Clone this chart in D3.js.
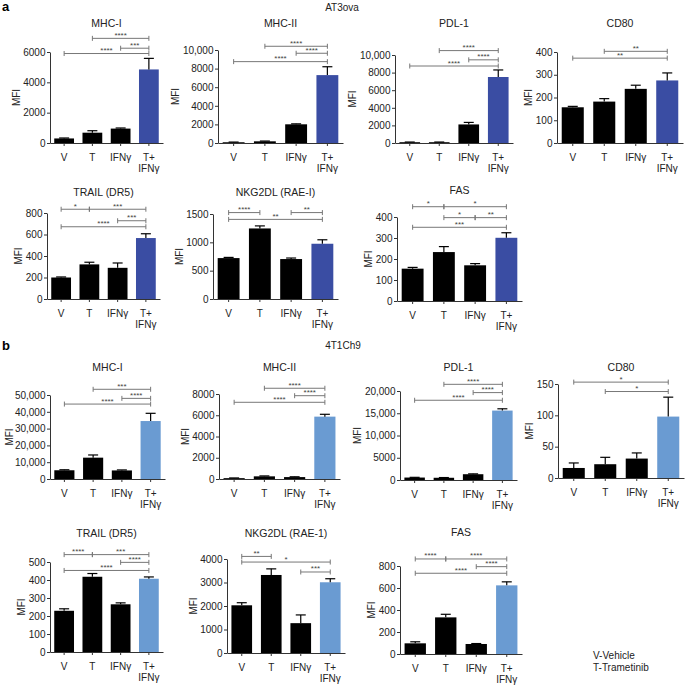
<!DOCTYPE html>
<html>
<head>
<meta charset="utf-8">
<script src="https://cdnjs.cloudflare.com/ajax/libs/d3/7.8.5/d3.min.js"></script>
<style>
  body { margin: 0; background: #fff; }
  svg text { font-family: "Liberation Sans", Arial, sans-serif; }
</style>
</head>
<body>
<div id="chart"></div>
<script>
var groups = ["V", "T", "IFNγ", "T+IFNγ"];

// panel a - AT3ova
var titlesA = ["MHC-I", "MHC-II", "PDL-1", "CD80", "TRAIL (DR5)", "NKG2DL (RAE-I)", "FAS"];
var meansA = [
  [300, 680, 950, 4850],
  [80, 180, 2010, 7300],
  [90, 90, 2110, 7500],
  [157, 182, 238, 275],
  [200, 322, 290, 567],
  [722, 1245, 705, 975],
  [154, 233, 170, 301]
];
var errsA = [
  [30, 130, 40, 730],
  [20, 30, 50, 900],
  [20, 20, 230, 800],
  [4, 13, 16, 33],
  [5, 20, 45, 40],
  [12, 45, 18, 70],
  [6, 26, 8, 24]
];
var ticksA = [
  [0, 2000, 4000, 6000],
  [0, 2000, 4000, 6000, 8000, 10000],
  [0, 2000, 4000, 6000, 8000, 10000],
  [0, 100, 200, 300, 400],
  [0, 200, 400, 600, 800],
  [0, 500, 1000, 1500],
  [0, 100, 200, 300, 400]
];
// [from, to, stars, level]
var bracketsA = [
  [[1, 3, "****", 6900], [2, 3, "***", 6250], [0, 3, "****", 5900]],
  [[1, 3, "****", 10400], [2, 3, "****", 9650], [0, 3, "****", 8750]],
  [[1, 3, "****", 10500], [2, 3, "****", 9450], [0, 3, "****", 8750]],
  [[1, 3, "**", 403], [0, 3, "**", 373]],
  [[0, 1, "*", 835], [1, 3, "***", 835], [2, 3, "***", 728], [0, 3, "****", 672]],
  [[0, 1, "****", 1525], [2, 3, "**", 1525], [0, 3, "**", 1405]],
  [[0, 1, "*", 449], [1, 3, "*", 449], [1, 2, "*", 397], [2, 3, "**", 397], [0, 3, "***", 351]]
];

// panel b - 4T1Ch9
var titlesB = ["MHC-I", "MHC-II", "PDL-1", "CD80", "TRAIL (DR5)", "NKG2DL (RAE-1)", "FAS"];
var meansB = [
  [5200, 12700, 5100, 34500],
  [80, 250, 180, 5870],
  [550, 500, 1300, 15600],
  [16, 22, 31, 98],
  [229, 418, 265, 407],
  [2030, 3320, 1270, 3010],
  [97, 333, 91, 624]
];
var errsB = [
  [300, 1600, 300, 4600],
  [20, 40, 30, 220],
  [50, 50, 80, 400],
  [8, 11, 9, 31],
  [11, 18, 8, 10],
  [110, 260, 350, 150],
  [14, 28, 4, 32]
];
var ticksB = [
  [0, 10000, 20000, 30000, 40000, 50000],
  [0, 2000, 4000, 6000, 8000],
  [0, 5000, 10000, 15000, 20000],
  [0, 50, 100, 150],
  [0, 100, 200, 300, 400, 500],
  [0, 1000, 2000, 3000, 4000],
  [0, 200, 400, 600, 800]
];
var bracketsB = [
  [[1, 3, "***", 53400], [2, 3, "****", 48000], [0, 3, "****", 44600]],
  [[1, 3, "****", 8540], [2, 3, "****", 7840], [0, 3, "****", 7220]],
  [[1, 3, "****", 21500], [2, 3, "****", 19640], [0, 3, "****", 17920]],
  [[0, 3, "*", 153], [1, 3, "*", 138]],
  [[0, 1, "****", 541], [1, 3, "***", 541], [2, 3, "****", 498], [0, 3, "****", 453]],
  [[0, 1, "**", 4110], [0, 3, "*", 3870], [2, 3, "***", 3447]],
  [[0, 1, "****", 864], [1, 3, "****", 864], [2, 3, "****", 794], [0, 3, "****", 734]]
];

// plot boxes: x axis left, x axis right, top tick y, baseline y, title y
var layoutA = [
  [50, 163, 52, 143, 27],
  [218, 343, 50, 143, 27],
  [395, 513, 55, 143, 27],
  [557, 683, 52, 143, 27],
  [47, 160, 213, 299, 196],
  [213, 338, 214, 299, 196],
  [397, 522, 217, 301, 194]
];
var layoutB = [
  [50, 165, 395, 479, 371],
  [219, 340, 394, 479, 371],
  [400, 517, 391, 480, 371],
  [558, 684, 384, 478, 371],
  [50, 163, 562, 652, 537],
  [227, 345, 559, 653, 537],
  [400, 522, 566, 654, 536]
];

var svg = d3.select("#chart").append("svg")
    .attr("width", 685)
    .attr("height", 685);

function fmtTick(d) {
  return d >= 10000 ? d3.format(",")(d) : String(d);
}

function drawChart(title, means, errs, ticks, brackets, box, accent) {
  var x = d3.scaleBand().domain(groups).range([box[0], box[1]])
      .paddingInner(0.3).paddingOuter(0.15);
  var y = d3.scaleLinear().domain([0, ticks[ticks.length - 1]]).range([box[3], box[2]]);
  var g = svg.append("g");
  var cx = function(i) { return x(groups[i]) + x.bandwidth() / 2; };

  // bars
  g.selectAll("rect.bar").data(means).enter().append("rect")
      .attr("class", "bar")
      .attr("x", function(d, i) { return x(groups[i]); })
      .attr("y", function(d) { return y(d); })
      .attr("width", x.bandwidth())
      .attr("height", function(d) { return y(0) - y(d); })
      .attr("fill", function(d, i) { return i == 3 ? accent : "#000"; });

  // error bars, upper only
  for (var i = 0; i < means.length; i++) {
    var top = y(means[i] + errs[i]);
    g.append("line")
        .attr("x1", cx(i)).attr("x2", cx(i))
        .attr("y1", y(means[i])).attr("y2", top)
        .attr("stroke", "#000").attr("stroke-width", 1.2);
    g.append("line")
        .attr("x1", cx(i) - 5).attr("x2", cx(i) + 5)
        .attr("y1", top).attr("y2", top)
        .attr("stroke", "#000").attr("stroke-width", 1.2);
  }

  // y axis
  var ya = g.append("g")
      .attr("transform", "translate(" + box[0] + ",0)")
      .call(d3.axisLeft(y).tickValues(ticks).tickSize(3).tickSizeOuter(0).tickPadding(1.5).tickFormat(fmtTick));
  ya.attr("font-family", null).attr("font-size", null);
  ya.selectAll("text").style("font-size", "10px").attr("fill", "#222");
  ya.selectAll("line, path").attr("stroke", "#333");

  // x axis
  var xa = g.append("g")
      .attr("transform", "translate(0," + box[3] + ")")
      .call(d3.axisBottom(x).tickSize(3).tickSizeOuter(0).tickFormat(""));
  xa.selectAll("line, path").attr("stroke", "#333");

  groups.forEach(function(name, i) {
    var t = g.append("text")
        .attr("x", cx(i))
        .attr("y", box[3] + 18)
        .attr("text-anchor", "middle")
        .style("font-size", "10px")
        .attr("fill", "#222");
    if (name == "T+IFNγ") {
      t.append("tspan").attr("x", cx(i)).text("T+");
      t.append("tspan").attr("x", cx(i)).attr("dy", 11).text("IFNγ");
    } else {
      t.text(name);
    }
  });

  // MFI label, left of the widest tick label
  var maxW = d3.max(ya.selectAll("text").nodes(), function(n) { return n.getComputedTextLength(); });
  var mfiX = Math.max(box[0] - 4.5 - maxW - 7, 9);
  g.append("text")
      .attr("transform", "translate(" + mfiX + "," + ((box[2] + box[3]) / 2) + ") rotate(-90)")
      .attr("text-anchor", "middle")
      .attr("dy", "0.35em")
      .style("font-size", "10px")
      .attr("fill", "#222")
      .text("MFI");

  // title
  g.append("text")
      .attr("x", (box[0] + box[1]) / 2)
      .attr("y", box[4])
      .attr("text-anchor", "middle")
      .style("font-size", "10.5px")
      .attr("fill", "#222")
      .text(title);

  // significance brackets
  brackets.forEach(function(b) {
    var x1 = cx(b[0]), x2 = cx(b[1]), yy = y(b[3]);
    g.append("line").attr("x1", x1).attr("x2", x2).attr("y1", yy).attr("y2", yy)
        .attr("stroke", "#777").attr("stroke-width", 1);
    [x1, x2].forEach(function(xx) {
      g.append("line").attr("x1", xx).attr("x2", xx).attr("y1", yy - 2.5).attr("y2", yy + 2.5)
          .attr("stroke", "#777").attr("stroke-width", 1);
    });
    g.append("text")
        .attr("x", (x1 + x2) / 2)
        .attr("y", yy - 0.5)
        .attr("text-anchor", "middle")
        .style("font-size", "8px")
        .attr("fill", "#444")
        .text(b[2]);
  });
}

for (var k = 0; k < titlesA.length; k++) {
  drawChart(titlesA[k], meansA[k], errsA[k], ticksA[k], bracketsA[k], layoutA[k], "#3a4da3");
}
for (var k = 0; k < titlesB.length; k++) {
  drawChart(titlesB[k], meansB[k], errsB[k], ticksB[k], bracketsB[k], layoutB[k], "#6a9bd2");
}

// panel letters and cell line names
svg.append("text").attr("x", 2).attr("y", 11).style("font-size", "13px").style("font-weight", "bold").text("a");
svg.append("text").attr("x", 342).attr("y", 11).attr("text-anchor", "middle").style("font-size", "10px").attr("fill", "#222").text("AT3ova");
svg.append("text").attr("x", 2).attr("y", 350).style("font-size", "13px").style("font-weight", "bold").text("b");
svg.append("text").attr("x", 343).attr("y", 349).attr("text-anchor", "middle").style("font-size", "10px").attr("fill", "#222").text("4T1Ch9");

// legend
svg.append("text").attr("x", 593).attr("y", 659).style("font-size", "10px").attr("fill", "#222").text("V-Vehicle");
svg.append("text").attr("x", 593).attr("y", 671).style("font-size", "10px").attr("fill", "#222").text("T-Trametinib");
</script>
</body>
</html>
